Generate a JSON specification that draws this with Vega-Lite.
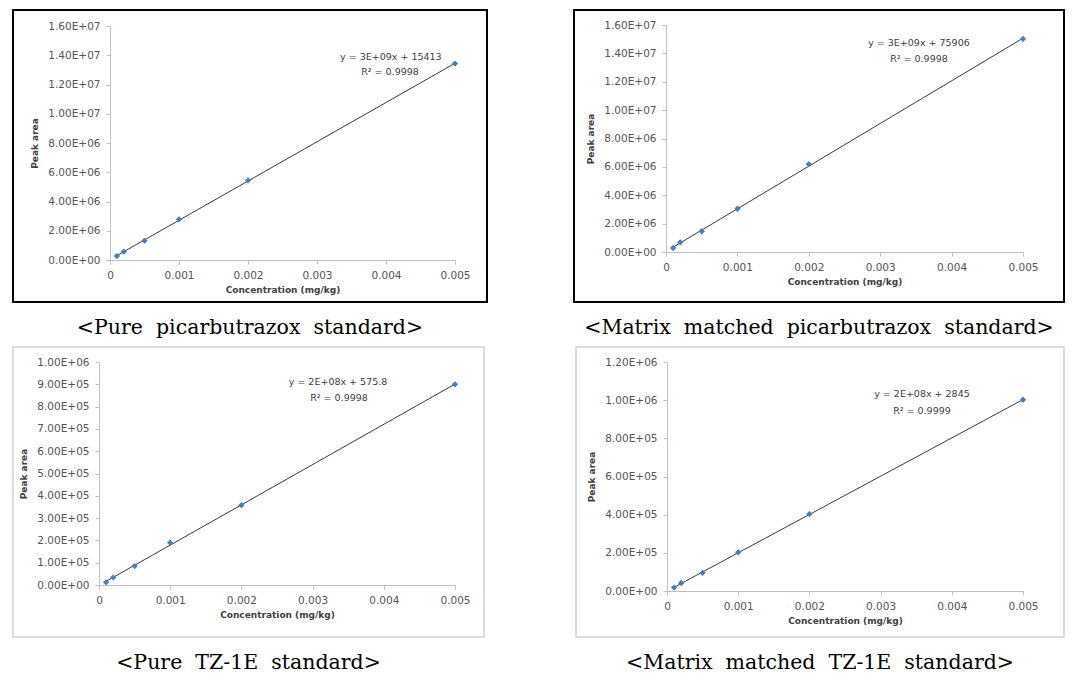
{
  "$schema": "https://vega.github.io/schema/vega-lite/v6.json",
  "padding": {"left": 12, "top": 9, "right": 0, "bottom": 0},
  "background": "white",
  "datasets": {
    "pure_pic": [
      {"conc": 0.0001, "area": 270000},
      {"conc": 0.0002, "area": 570000},
      {"conc": 0.0005, "area": 1320000},
      {"conc": 0.001, "area": 2780000},
      {"conc": 0.002, "area": 5440000},
      {"conc": 0.005, "area": 13430000}
    ],
    "matrix_pic": [
      {"conc": 0.0001, "area": 280000},
      {"conc": 0.0002, "area": 680000},
      {"conc": 0.0005, "area": 1460000},
      {"conc": 0.001, "area": 3050000},
      {"conc": 0.002, "area": 6200000},
      {"conc": 0.005, "area": 15020000}
    ],
    "pure_tz": [
      {"conc": 0.0001, "area": 12000},
      {"conc": 0.0002, "area": 34000},
      {"conc": 0.0005, "area": 85000},
      {"conc": 0.001, "area": 190000},
      {"conc": 0.002, "area": 358000},
      {"conc": 0.005, "area": 900000}
    ],
    "matrix_tz": [
      {"conc": 0.0001, "area": 18000},
      {"conc": 0.0002, "area": 42000},
      {"conc": 0.0005, "area": 95000},
      {"conc": 0.001, "area": 203000},
      {"conc": 0.002, "area": 403000},
      {"conc": 0.005, "area": 1002000}
    ]
  },
  "spacing": 6,
  "vconcat": [
    {
      "spacing": 85,
      "hconcat": [
        {
          "width": 474, "height": 292,
          "view": {"stroke": "#000000", "strokeWidth": 2, "fill": "white"},
          "title": {"text": "<Pure\u00a0 picarbutrazox\u00a0 standard>"},
          "encoding": {
            "x": {"field": "conc", "type": "quantitative",
                  "scale": {"domain": [0, 0.005], "range": [97, 442], "nice": false, "zero": false},
                  "axis": {"title": "Concentration (mg/kg)", "values": [0, 0.001, 0.002, 0.003, 0.004, 0.005], "format": "~g", "offset": -42}},
            "y": {"field": "area", "type": "quantitative",
                  "scale": {"domain": [0, 16000000], "range": [250, 16], "nice": false, "zero": false},
                  "axis": {"title": "Peak area", "values": [0, 2000000, 4000000, 6000000, 8000000, 10000000, 12000000, 14000000, 16000000], "labelExpr": "replace(format(datum.value, '.2e'), 'e+', 'E+0')", "offset": -97}}
          },
          "layer": [
            {"data": {"name": "pure_pic"}, "transform": [{"regression": "area", "on": "conc"}], "mark": {"type": "line", "color": "#3a3a3a", "strokeWidth": 1}},
            {"data": {"name": "pure_pic"}, "mark": {"type": "point", "shape": "diamond", "filled": true, "size": 40, "color": "#4a7ebb", "opacity": 1}},
            {"data": {"values": [{"conc": 0.00407, "area": 13860000, "label": "y = 3E+09x + 15413"}, {"conc": 0.004058, "area": 12830000, "label": "R² = 0.9998"}]},
             "mark": {"type": "text"}, "encoding": {"text": {"field": "label"}}}
          ]
        },
        {
          "width": 490, "height": 292,
          "view": {"stroke": "#000000", "strokeWidth": 2, "fill": "white"},
          "title": {"text": "<Matrix\u00a0 matched\u00a0 picarbutrazox\u00a0 standard>"},
          "encoding": {
            "x": {"field": "conc", "type": "quantitative",
                  "scale": {"domain": [0, 0.005], "range": [92, 449], "nice": false, "zero": false},
                  "axis": {"title": "Concentration (mg/kg)", "values": [0, 0.001, 0.002, 0.003, 0.004, 0.005], "format": "~g", "offset": -50}},
            "y": {"field": "area", "type": "quantitative",
                  "scale": {"domain": [0, 16000000], "range": [242, 15], "nice": false, "zero": false},
                  "axis": {"title": "Peak area", "values": [0, 2000000, 4000000, 6000000, 8000000, 10000000, 12000000, 14000000, 16000000], "labelExpr": "replace(format(datum.value, '.2e'), 'e+', 'E+0')", "offset": -92}}
          },
          "layer": [
            {"data": {"name": "matrix_pic"}, "transform": [{"regression": "area", "on": "conc"}], "mark": {"type": "line", "color": "#3a3a3a", "strokeWidth": 1}},
            {"data": {"name": "matrix_pic"}, "mark": {"type": "point", "shape": "diamond", "filled": true, "size": 40, "color": "#4a7ebb", "opacity": 1}},
            {"data": {"values": [{"conc": 0.003543, "area": 14730000, "label": "y = 3E+09x + 75906"}, {"conc": 0.003543, "area": 13600000, "label": "R² = 0.9998"}]},
             "mark": {"type": "text"}, "encoding": {"text": {"field": "label"}}}
          ]
        }
      ]
    },
    {
      "spacing": 90,
      "hconcat": [
        {
          "width": 471, "height": 290,
          "view": {"stroke": "#d0d0d0", "strokeWidth": 1.5, "fill": "white"},
          "title": {"text": "<Pure\u00a0 TZ-1E\u00a0 standard>"},
          "encoding": {
            "x": {"field": "conc", "type": "quantitative",
                  "scale": {"domain": [0, 0.005], "range": [86, 442], "nice": false, "zero": false},
                  "axis": {"title": "Concentration (mg/kg)", "values": [0, 0.001, 0.002, 0.003, 0.004, 0.005], "format": "~g", "offset": -52}},
            "y": {"field": "area", "type": "quantitative",
                  "scale": {"domain": [0, 1000000], "range": [238, 15], "nice": false, "zero": false},
                  "axis": {"title": "Peak area", "values": [0, 100000, 200000, 300000, 400000, 500000, 600000, 700000, 800000, 900000, 1000000], "labelExpr": "replace(format(datum.value, '.2e'), 'e+', 'E+0')", "offset": -86}}
          },
          "layer": [
            {"data": {"name": "pure_tz"}, "transform": [{"regression": "area", "on": "conc"}], "mark": {"type": "line", "color": "#3a3a3a", "strokeWidth": 1}},
            {"data": {"name": "pure_tz"}, "mark": {"type": "point", "shape": "diamond", "filled": true, "size": 40, "color": "#4a7ebb", "opacity": 1}},
            {"data": {"values": [{"conc": 0.003357, "area": 910000, "label": "y = 2E+08x + 575.8"}, {"conc": 0.003371, "area": 839000, "label": "R² = 0.9998"}]},
             "mark": {"type": "text"}, "encoding": {"text": {"field": "label"}}}
          ]
        },
        {
          "width": 488, "height": 290,
          "view": {"stroke": "#d0d0d0", "strokeWidth": 1.5, "fill": "white"},
          "title": {"text": "<Matrix\u00a0 matched\u00a0 TZ-1E\u00a0 standard>"},
          "encoding": {
            "x": {"field": "conc", "type": "quantitative",
                  "scale": {"domain": [0, 0.005], "range": [91, 447], "nice": false, "zero": false},
                  "axis": {"title": "Concentration (mg/kg)", "values": [0, 0.001, 0.002, 0.003, 0.004, 0.005], "format": "~g", "offset": -46}},
            "y": {"field": "area", "type": "quantitative",
                  "scale": {"domain": [0, 1200000], "range": [244, 15], "nice": false, "zero": false},
                  "axis": {"title": "Peak area", "values": [0, 200000, 400000, 600000, 800000, 1000000, 1200000], "labelExpr": "replace(format(datum.value, '.2e'), 'e+', 'E+0')", "offset": -91}}
          },
          "layer": [
            {"data": {"name": "matrix_tz"}, "transform": [{"regression": "area", "on": "conc"}], "mark": {"type": "line", "color": "#3a3a3a", "strokeWidth": 1}},
            {"data": {"name": "matrix_tz"}, "mark": {"type": "point", "shape": "diamond", "filled": true, "size": 40, "color": "#4a7ebb", "opacity": 1}},
            {"data": {"values": [{"conc": 0.003581, "area": 1032000, "label": "y = 2E+08x + 2845"}, {"conc": 0.003581, "area": 943000, "label": "R² = 0.9999"}]},
             "mark": {"type": "text"}, "encoding": {"text": {"field": "label"}}}
          ]
        }
      ]
    }
  ],
  "config": {
    "axis": {
      "grid": false,
      "labelFont": "DejaVu Sans", "labelFontSize": 10.5, "labelColor": "#555555", "labelOverlap": false,
      "titleFont": "DejaVu Sans", "titleFontSize": 9, "titleFontWeight": "bold", "titleColor": "#404040",
      "domainColor": "#bfbfbf", "tickColor": "#bfbfbf", "tickSize": 4, "labelFlush": false
    },
    "axisX": {"labelPadding": 6, "titlePadding": 5},
    "axisY": {"labelPadding": 6, "titlePadding": 8},
    "title": {"orient": "bottom", "anchor": "middle", "font": "DejaVu Serif", "fontSize": 20.5, "fontWeight": "normal", "color": "#000000", "offset": 16},
    "text": {"font": "DejaVu Sans", "fontSize": 9.5, "color": "#404040", "align": "center", "baseline": "middle"}
  }
}
